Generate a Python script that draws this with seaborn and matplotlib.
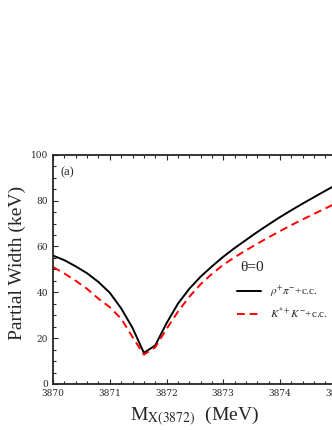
import matplotlib
matplotlib.use("Agg")
import matplotlib.pyplot as plt
from matplotlib.ticker import MultipleLocator
import pandas as pd
import seaborn as sns

# invariant mass grid (MeV)
mass = [3870.0, 3870.2, 3870.4, 3870.6, 3870.8, 3871.0, 3871.2, 3871.4, 3871.6,
        3871.8, 3872.0, 3872.2, 3872.4, 3872.6, 3872.8, 3873.0, 3873.2, 3873.4,
        3873.6, 3873.8, 3874.0, 3874.2, 3874.4, 3874.6, 3874.8, 3875.0]

# partial widths (keV)
rho_pi = [56.0, 54.0, 51.3, 48.3, 44.5, 39.8, 33.0, 24.5, 13.6,
          16.8, 26.5, 35.0, 41.5, 46.8, 51.3, 55.5, 59.3, 62.8,
          66.3, 69.6, 72.8, 75.8, 78.7, 81.5, 84.3, 87.0]
kstar_k = [51.0, 48.2, 45.0, 41.5, 37.2, 33.5, 28.5, 20.5, 12.8,
           16.0, 24.0, 31.5, 38.0, 43.5, 48.0, 52.0, 55.3, 58.3,
           61.2, 64.0, 66.7, 69.3, 71.8, 74.2, 76.6, 79.0]

labels = [r"$\rho^{+}\pi^{-}$+c.c.", r"$K^{*+}K^{-}$+c.c."]

df = pd.DataFrame({
    "mass": mass * 2,
    "width": rho_pi + kstar_k,
    "channel": [labels[0]] * len(mass) + [labels[1]] * len(mass),
})

sns.set_style("ticks")
plt.rcParams["font.family"] = ["Liberation Serif", "DejaVu Serif"]
plt.rcParams["mathtext.fontset"] = "stix"

fig = plt.figure(figsize=(3.32, 4.30), dpi=100)
ax = fig.add_axes([0.16, 0.107, 0.854, 0.533])

sns.lineplot(data=df, x="mass", y="width", hue="channel", style="channel",
             palette=["black", "red"], dashes=[(None, None), (4, 2.5)],
             linewidth=1.4, ax=ax)

ax.set_xlim(3870, 3875)
ax.set_ylim(0, 100)
ax.xaxis.set_major_locator(MultipleLocator(1))
ax.xaxis.set_minor_locator(MultipleLocator(0.2))
ax.yaxis.set_major_locator(MultipleLocator(20))
ax.yaxis.set_minor_locator(MultipleLocator(5))
ax.tick_params(which="both", direction="in", top=True, right=True,
               labelsize=6.5, width=0.8)
ax.tick_params(which="major", length=3.5)
ax.tick_params(which="minor", length=2)
for lab in ax.get_xticklabels() + ax.get_yticklabels():
    lab.set_family("DejaVu Serif")
for s in ax.spines.values():
    s.set_linewidth(1.3)

ax.set_xlabel(r"M$_{\rm X(3872)}$  (MeV)", fontsize=14, va="center")
ax.xaxis.set_label_coords(0.50, -0.14)
ax.set_ylabel("Partial Width (keV)", fontsize=14, va="center")
ax.yaxis.set_label_coords(-0.125, 0.53)
ax.text(0.025, 0.95, "(a)", transform=ax.transAxes, fontsize=9, va="top")
ax.text(0.66, 0.507, "θ=0", transform=ax.transAxes, fontsize=11, va="center")

leg = ax.legend(frameon=False, fontsize=8,
                loc="center left", bbox_to_anchor=(0.63, 0.356),
                handlelength=2.1, handletextpad=0.8,
                labelspacing=0.5, borderpad=0)

fig.savefig("out.png", dpi=100)
